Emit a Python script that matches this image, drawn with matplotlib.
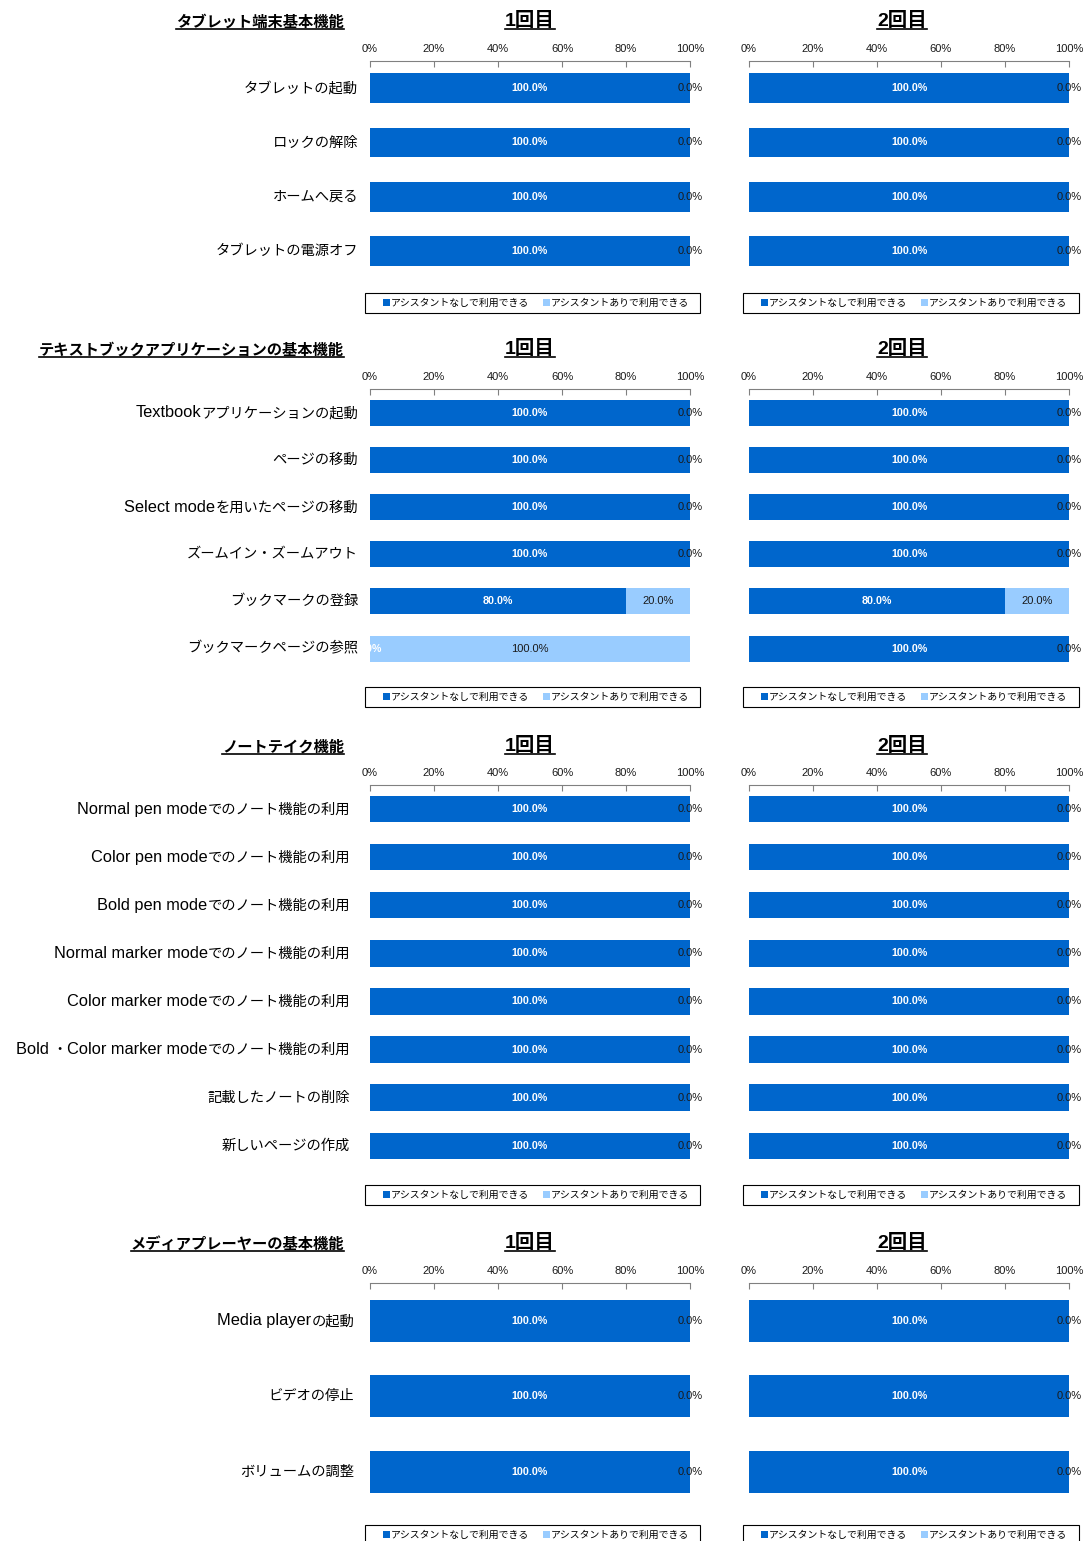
import re
import matplotlib
matplotlib.use("Agg")
import matplotlib.pyplot as plt
import matplotlib.transforms as mtransforms
from matplotlib.lines import Line2D
from matplotlib.patches import Rectangle
from matplotlib.offsetbox import TextArea, HPacker, AnnotationBbox

plt.rcParams["font.family"] = ["Liberation Sans", "Noto Sans CJK JP", "DejaVu Sans"]

# ---------------- data ----------------
series_names = ["アシスタントなしで利用できる", "アシスタントありで利用できる"]
round_titles = ["1回目", "2回目"]

sec1_title = "タブレット端末基本機能"
sec1_cats = ["タブレットの起動", "ロックの解除", "ホームへ戻る", "タブレットの電源オフ"]
sec1_r1_without = [100, 100, 100, 100]
sec1_r1_with = [0, 0, 0, 0]
sec1_r2_without = [100, 100, 100, 100]
sec1_r2_with = [0, 0, 0, 0]

sec2_title = "テキストブックアプリケーションの基本機能"
sec2_cats = ["Textbookアプリケーションの起動", "ページの移動", "Select modeを用いたページの移動",
             "ズームイン・ズームアウト", "ブックマークの登録", "ブックマークページの参照"]
sec2_r1_without = [100, 100, 100, 100, 80, 0]
sec2_r1_with = [0, 0, 0, 0, 20, 100]
sec2_r2_without = [100, 100, 100, 100, 80, 100]
sec2_r2_with = [0, 0, 0, 0, 20, 0]

sec3_title = "ノートテイク機能"
sec3_cats = ["Normal pen modeでのノート機能の利用", "Color pen modeでのノート機能の利用",
             "Bold pen modeでのノート機能の利用", "Normal marker modeでのノート機能の利用",
             "Color marker modeでのノート機能の利用", "Bold ・Color marker modeでのノート機能の利用",
             "記載したノートの削除", "新しいページの作成"]
sec3_r1_without = [100, 100, 100, 100, 100, 100, 100, 100]
sec3_r1_with = [0, 0, 0, 0, 0, 0, 0, 0]
sec3_r2_without = [100, 100, 100, 100, 100, 100, 100, 100]
sec3_r2_with = [0, 0, 0, 0, 0, 0, 0, 0]

sec4_title = "メディアプレーヤーの基本機能"
sec4_cats = ["Media playerの起動", "ビデオの停止", "ボリュームの調整"]
sec4_r1_without = [100, 100, 100]
sec4_r1_with = [0, 0, 0]
sec4_r2_without = [100, 100, 100]
sec4_r2_with = [0, 0, 0]

x_ticks = [0, 20, 40, 60, 80, 100]

# ---------------- layout (pixels) ----------------
W, H = 1086, 1541
DARK = "#0066CC"
LIGHT = "#99CCFF"
CJK = ["Noto Sans CJK JP", "DejaVu Sans"]

fig = plt.figure(figsize=(W / 100, H / 100), dpi=100)

sections = [
    # title, cats, rounds, axis top, row pitch, label right edge, title y
    (sec1_title, sec1_cats, [(sec1_r1_without, sec1_r1_with), (sec1_r2_without, sec1_r2_with)], 61, 54.3, 358, 22),
    (sec2_title, sec2_cats, [(sec2_r1_without, sec2_r1_with), (sec2_r2_without, sec2_r2_with)], 389, 47.2, 358, 350),
    (sec3_title, sec3_cats, [(sec3_r1_without, sec3_r1_with), (sec3_r2_without, sec3_r2_with)], 785, 48.1, 350, 747),
    (sec4_title, sec4_cats, [(sec4_r1_without, sec4_r1_with), (sec4_r2_without, sec4_r2_with)], 1283, 75.5, 354, 1244),
]
panels_x = [(370, 690), (749, 1069)]
round_title_x = [530, 902]
legend_frame_x = [(365, 700), (743, 1079)]

underlined = []


def fx(px):
    return px / W


def fy(py):
    return 1 - py / H


def category_label(ax, y, s, right_px):
    """Category label: Latin runs in an Arial-like face, Japanese runs in Gothic."""
    parts = []
    for run in re.findall(r"[\x20-\x7e]+|[^\x20-\x7e]+", s):
        if run[0].isascii():
            props = dict(family=["Liberation Sans"], size=11.8, color="black")
        else:
            props = dict(family=CJK, size=10.3, color="black")
        parts.append(TextArea(run, textprops=props))
    box = HPacker(children=parts, align="baseline", pad=0, sep=0)
    trans = mtransforms.blended_transform_factory(fig.transFigure, ax.transData)
    ab = AnnotationBbox(box, (fx(right_px), y), xycoords=trans, box_alignment=(1, 0.5),
                        frameon=False, pad=0, annotation_clip=False)
    ax.add_artist(ab)


for title, cats, rounds, top, pitch, label_right, title_y in sections:
    n = len(cats)
    height = n * pitch
    bottom = top + height
    t = fig.text(fx(344), fy(title_y), title, ha="right", va="center",
                 fontsize=11, fontweight="bold", family=CJK)
    underlined.append(t)
    for p, ((x0, x1), (without, with_)) in enumerate(zip(panels_x, rounds)):
        ax = fig.add_axes([fx(x0), fy(bottom), fx(x1 - x0), height / H])
        ypos = [i + 0.5 for i in range(n)]
        b1 = ax.barh(ypos, without, height=0.55, color=DARK, label=series_names[0])
        b2 = ax.barh(ypos, with_, left=without, height=0.55, color=LIGHT, label=series_names[1])
        for y, a, b in zip(ypos, without, with_):
            ax.text(a / 2, y, f"{a:.1f}%", ha="center", va="center", color="white",
                    fontsize=7.7, fontweight="bold", clip_on=False)
            ax.text(a + b / 2, y, f"{b:.1f}%", ha="center", va="center", color="#1a1a1a",
                    fontsize=8, clip_on=False)
        ax.set_xlim(0, 100)
        ax.set_ylim(n, 0)
        ax.set_xticks(x_ticks)
        ax.set_xticklabels([f"{v}%" for v in x_ticks])
        ax.xaxis.tick_top()
        ax.tick_params(axis="x", direction="in", length=4, width=0.8, color="#808080",
                       labelsize=8, pad=5, labelcolor="#1a1a1a")
        for s in ["bottom", "left", "right"]:
            ax.spines[s].set_visible(False)
        ax.spines["top"].set_color("#808080")
        ax.spines["top"].set_linewidth(0.8)
        ax.set_yticks([])
        if p == 0:
            for y, c in zip(ypos, cats):
                category_label(ax, y, c, label_right)

        # legend with a separate rectangular frame
        lx0, lx1 = legend_frame_x[p]
        ltop = bottom + 15
        fig.add_artist(Rectangle((fx(lx0), fy(ltop + 20)), fx(lx1 - lx0), 20 / H,
                                 transform=fig.transFigure, fill=False,
                                 edgecolor="black", linewidth=0.8))
        ax.legend(handles=[b1, b2], loc="center left", ncol=2,
                  bbox_to_anchor=(fx(lx0 + 18), fy(ltop + 10)),
                  bbox_transform=fig.transFigure, frameon=False,
                  prop=dict(family=CJK, size=7.1), handlelength=0.7,
                  handleheight=0.7, handletextpad=0.1, columnspacing=1.4,
                  borderpad=0, borderaxespad=0)

        rt = fig.text(fx(round_title_x[p]), fy(title_y - 1), round_titles[p], ha="center",
                      va="center", fontsize=14, fontweight="bold",
                      family=["Liberation Sans", "Noto Sans CJK JP"])
        underlined.append(rt)

# underline the section and round titles
fig.canvas.draw()
renderer = fig.canvas.get_renderer()
for t in underlined:
    bb = t.get_window_extent(renderer)
    yline = bb.y0 + 1
    fig.add_artist(Line2D([bb.x0 / W, bb.x1 / W], [yline / H, yline / H],
                          transform=fig.transFigure, color="black", linewidth=1.2))

fig.savefig("out.png", dpi=100)
